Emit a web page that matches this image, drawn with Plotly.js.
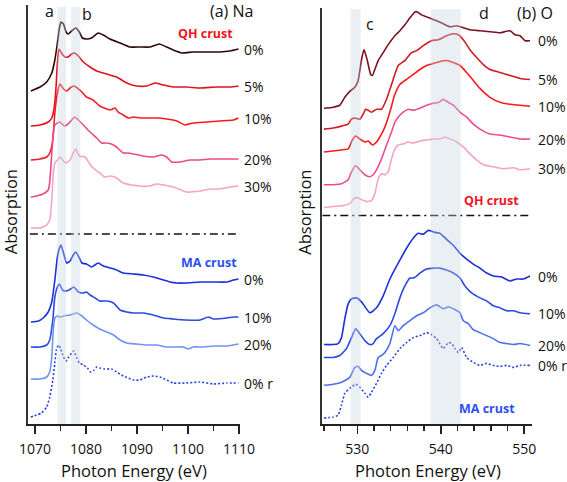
<!DOCTYPE html>
<html>
<head>
<meta charset="utf-8">
<script src="https://cdn.plot.ly/plotly-3.0.1.min.js"></script>
<style>html,body{margin:0;padding:0;background:#fff;}#plot{width:567px;height:482px;}</style>
</head>
<body>
<div id="plot"></div>
<script>
// ---------- (a) Na K-edge, QH crust ----------
const naE_QH0 = [1069.2,1071.0,1072.3,1073.3,1073.9,1074.4,1074.8,1075.1,1075.6,1076.1,1076.5,1077.2,1078.0,1078.7,1079.3,1080.1,1081.1,1082.4,1083.4,1084.7,1086.7,1088.6,1090.6,1092.5,1094.4,1095.8,1097.1,1098.8,1101.0,1103.7,1106.3,1108.2,1109.9];
const naA_QH0 = [333,337,342,351,364,381,396,402,400,392,390,393,396,392,386,385,386,391,389,385,381,377,377,377,380,377,374,371,372,372,372,373,375];
const naE_QH5 = [1069.2,1071.0,1072.6,1073.3,1073.7,1074.1,1074.4,1074.7,1075.2,1075.9,1076.5,1077.2,1077.8,1078.5,1079.5,1080.8,1082.1,1084.1,1086.0,1088.0,1089.9,1091.9,1093.5,1095.2,1097.1,1099.7,1102.4,1105.6,1108.2,1109.9];
const naA_QH5 = [298,299,302,306,314,334,361,375,371,367,367,370,371,368,362,357,353,350,347,341,338,338,341,339,337,337,336,337,337,338];
const naE_QH10 = [1069.2,1071.0,1072.3,1072.9,1073.5,1073.9,1074.4,1074.9,1075.6,1076.2,1076.9,1077.6,1078.3,1079.2,1080.1,1081.4,1082.7,1084.7,1085.7,1086.3,1087.3,1088.3,1089.3,1090.6,1091.9,1093.9,1095.8,1097.8,1099.4,1101.0,1103.7,1106.3,1108.9,1109.9];
const naA_QH10 = [264,265,267,271,284,311,331,340,335,333,336,338,336,332,327,324,318,314,316,312,309,306,307,306,306,306,305,303,299,301,302,303,304,306];
const naE_QH20 = [1069.2,1070.3,1071.6,1072.6,1072.9,1073.3,1073.6,1073.9,1074.9,1075.7,1076.5,1077.2,1077.8,1078.5,1079.5,1080.8,1082.1,1083.1,1084.1,1085.0,1086.0,1087.3,1088.3,1089.3,1091.2,1093.2,1094.8,1095.8,1096.8,1098.4,1100.4,1102.4,1104.3,1106.3,1108.2,1109.9];
const naA_QH20 = [227,228,230,234,242,271,291,299,302,298,300,304,307,304,299,292,286,281,281,280,277,271,271,270,268,267,269,267,262,262,264,264,265,265,265,265];
const naE_QH30 = [1069.2,1071.0,1072.3,1072.9,1073.3,1073.6,1073.9,1074.4,1074.9,1075.4,1076.0,1076.9,1077.5,1078.0,1078.7,1079.8,1080.5,1081.4,1082.7,1083.7,1084.7,1086.0,1087.3,1089.0,1090.6,1092.5,1093.9,1095.2,1097.1,1099.7,1102.4,1104.3,1106.3,1108.2,1109.9];
const naA_QH30 = [196,196,199,204,224,251,261,264,267,264,261,264,271,275,268,267,262,256,251,247,248,246,241,239,238,238,240,239,237,232,233,235,235,237,238];
// ---------- (a) Na K-edge, MA crust ----------
const naE_MA0 = [1069.2,1070.7,1071.6,1072.6,1073.3,1073.9,1074.4,1074.8,1075.1,1075.6,1076.2,1076.9,1077.5,1078.0,1078.7,1079.2,1080.1,1081.1,1082.4,1083.4,1084.7,1086.0,1087.3,1089.3,1091.2,1093.2,1095.2,1096.5,1097.8,1099.7,1102.4,1105.0,1107.6,1108.9,1109.9];
const naA_MA0 = [102,103,106,112,122,144,167,176,179,171,161,163,169,172,166,161,160,157,161,158,156,154,151,150,149,147,144,142,141,141,142,142,142,144,145];
const naE_MA10 = [1069.2,1071.0,1072.3,1072.9,1073.5,1073.9,1074.4,1074.8,1075.4,1076.2,1077.0,1077.6,1078.5,1079.5,1080.1,1080.8,1081.8,1082.7,1084.1,1085.4,1086.7,1088.0,1089.3,1091.2,1093.2,1095.2,1097.1,1099.7,1102.4,1104.0,1105.0,1107.6,1108.9,1109.9];
const naA_MA10 = [77,77,79,84,104,127,137,140,134,133,135,137,132,131,132,129,126,123,123,121,114,112,111,111,109,106,105,104,104,107,105,106,107,107];
const naE_MA20 = [1069.2,1071.0,1072.3,1072.9,1073.3,1073.6,1073.9,1074.4,1074.9,1075.6,1076.9,1078.2,1079.2,1080.1,1081.4,1082.7,1084.1,1085.4,1086.7,1088.0,1089.9,1091.9,1093.9,1095.8,1097.8,1099.1,1100.1,1101.0,1103.0,1105.0,1107.6,1109.9];
const naA_MA20 = [45,45,47,52,67,94,106,108,107,108,109,111,108,104,99,95,92,89,84,81,80,79,79,77,77,77,75,77,77,78,78,80];
const naE_MA0r = [1069.2,1070.3,1071.3,1072.3,1072.9,1073.5,1073.9,1074.2,1074.6,1075.0,1075.6,1076.1,1076.5,1077.2,1077.6,1078.2,1078.7,1079.5,1080.3,1080.9,1081.6,1082.1,1082.7,1083.7,1085.0,1086.0,1087.3,1089.3,1090.6,1091.9,1093.2,1094.5,1095.8,1097.1,1099.7,1102.4,1105.0,1107.6,1109.9];
const naA_MA0r = [7,9,11,17,27,44,61,74,79,76,67,63,66,71,73,66,61,59,56,52,54,57,56,55,55,52,48,44,44,47,48,47,44,41,41,42,40,41,41];

// ---------- (b) O K-edge, QH crust ----------
const oE_QH0 = [526.0,527.1,527.9,528.5,529.1,529.7,530.1,530.5,530.8,531.2,531.6,531.8,532.1,532.5,533.1,533.7,534.5,535.1,535.7,536.3,536.9,537.2,537.7,538.3,538.9,539.5,540.3,541.1,541.9,542.7,543.5,544.7,545.9,547.1,548.3,548.9,549.5,550.1,550.7];
const oA_QH0 = [318,319,321,329,335,339,346,367,377,366,352,351,357,366,374,382,391,396,402,409,415,415,412,410,408,406,403,400,401,399,397,396,395,394,396,392,391,386,386];
const oE_QH5 = [526.0,527.1,528.1,528.9,529.3,529.7,530.3,530.7,531.0,531.3,531.7,532.3,532.9,533.5,534.3,534.9,535.7,536.5,537.1,537.9,538.9,539.7,540.7,541.5,542.1,542.7,543.5,544.3,545.1,545.9,547.1,548.3,549.5,550.7];
const oA_QH5 = [297,298,300,302,307,308,307,312,317,316,314,317,317,327,347,361,366,374,376,381,386,387,391,393,392,387,377,369,362,357,354,351,348,347];
const oE_QH10 = [526.0,527.1,528.1,528.9,529.4,529.8,530.3,530.9,531.3,531.8,532.3,532.7,533.3,533.9,534.5,535.1,535.9,536.7,537.5,538.3,539.1,539.9,540.7,541.5,542.3,543.1,543.9,544.7,545.9,547.1,548.3,549.5,550.7];
const oA_QH10 = [274,275,276,277,286,290,287,284,285,281,284,289,299,314,332,342,347,352,357,361,363,365,366,364,361,354,346,338,329,324,322,321,320];
const oE_QH20 = [526.0,527.1,528.1,528.9,529.3,529.8,530.3,530.9,531.5,531.9,532.3,532.9,533.5,534.1,534.5,534.9,535.5,536.1,536.7,537.5,538.3,539.1,539.8,540.3,540.7,541.5,542.3,543.1,543.9,544.7,545.9,547.1,548.3,549.5,550.7];
const oA_QH20 = [241,241,242,246,254,260,256,251,249,251,256,267,281,294,304,309,314,317,316,318,321,323,324,327,325,321,314,309,302,297,292,291,289,287,287];
const oE_QH30 = [526.0,527.1,528.3,529.1,529.6,530.0,530.5,531.1,531.7,532.1,532.5,532.9,533.3,533.7,534.1,534.5,534.9,535.5,536.1,536.7,537.5,538.3,539.1,539.9,540.5,541.1,541.9,542.7,543.5,544.3,545.1,546.3,547.5,548.7,549.5,550.7];
const oA_QH30 = [218,219,220,222,227,228,226,224,225,232,247,252,251,254,267,277,281,282,284,283,285,286,287,287,289,287,284,279,272,266,261,259,257,258,256,257];
// ---------- (b) O K-edge, MA crust ----------
const oE_MA0 = [526.0,527.1,527.7,528.1,528.5,528.9,529.3,529.9,530.5,531.5,532.3,533.1,533.9,534.9,535.9,536.7,537.3,537.9,538.5,539.3,539.9,540.7,541.5,542.3,543.1,543.9,544.7,545.5,546.3,547.3,548.3,549.1,549.9,550.7];
const oA_MA0 = [80,80,81,87,106,121,126,127,123,112,117,129,146,162,177,187,192,191,195,193,192,186,180,172,166,161,157,152,149,148,144,146,146,149];
const oE_MA10 = [526.0,527.1,527.9,528.7,529.3,529.8,530.2,530.9,531.5,531.9,532.3,533.1,533.9,534.5,535.1,535.7,536.3,536.7,537.1,537.5,538.3,539.1,539.9,540.7,541.5,542.3,542.9,543.7,544.7,545.5,546.3,547.1,547.9,548.7,549.5,550.7];
const oA_MA10 = [67,67,69,76,87,96,92,84,80,81,86,91,99,111,127,139,147,147,149,152,156,157,157,155,152,147,139,132,127,124,119,117,114,114,112,111];
const oE_MA20 = [526.0,527.1,528.1,529.1,529.7,530.1,530.5,531.1,531.7,532.1,532.5,532.9,533.3,533.9,534.5,534.9,535.5,536.3,537.1,537.9,538.7,539.5,540.3,540.9,541.5,542.3,542.7,543.3,543.9,544.7,545.5,546.3,547.1,547.9,548.7,549.5,550.7];
const oA_MA20 = [39,40,42,47,57,58,54,51,49,54,67,69,72,81,99,94,99,104,109,112,117,120,116,118,116,112,104,101,95,92,89,86,82,81,80,81,79];
const oE_MA0r = [526.0,527.1,527.7,528.1,528.5,529.1,529.8,530.3,530.9,531.3,531.7,532.3,532.9,533.5,534.3,535.1,535.9,536.7,537.5,538.3,538.9,539.5,540.3,540.9,541.3,541.7,542.1,542.5,543.1,543.9,544.7,545.5,546.3,547.1,547.9,548.7,549.5,550.7];
const oA_MA0r = [6,7,9,19,31,36,40,37,31,27,32,41,51,59,67,76,82,87,89,92,90,86,76,82,81,76,72,77,67,62,59,61,59,58,59,57,59,59];

// highlighted energy bands (eV) and separators
const naBands = [[1074.4,1076.1],[1077.1,1078.9]];
const oBands = [[529.2,530.4],[538.8,542.4]];
const naSepE = [1069.0,1110.2];
const naSepA = [190,190];
const oSepE = [525.8,551.0];
const oSepA = [210,210];

// tick labels
const naTicks = [1070,1080,1090,1100,1110];
const oTicks = [530,540,550];

const F = '"Open Sans", "Noto Sans", sans-serif';

const series = [
  // [E, A, color, label, dash, axis]
  [naE_QH0, naA_QH0, '#2e0707', '0%', 'solid', 1],
  [naE_QH5, naA_QH5, '#e0121c', '5%', 'solid', 1],
  [naE_QH10, naA_QH10, '#f41c24', '10%', 'solid', 1],
  [naE_QH20, naA_QH20, '#ec4a86', '20%', 'solid', 1],
  [naE_QH30, naA_QH30, '#f6a4c6', '30%', 'solid', 1],
  [naE_MA0, naA_MA0, '#1c30da', '0%', 'solid', 1],
  [naE_MA10, naA_MA10, '#2c49e2', '10%', 'solid', 1],
  [naE_MA20, naA_MA20, '#7094f2', '20%', 'solid', 1],
  [naE_MA0r, naA_MA0r, '#2a40e4', '0% r', '2px,2px', 1],
  [oE_QH0, oA_QH0, '#7a1220', '0%', 'solid', 2],
  [oE_QH5, oA_QH5, '#d21a24', '5%', 'solid', 2],
  [oE_QH10, oA_QH10, '#fa1a1c', '10%', 'solid', 2],
  [oE_QH20, oA_QH20, '#ec4c8c', '20%', 'solid', 2],
  [oE_QH30, oA_QH30, '#f7a3c7', '30%', 'solid', 2],
  [oE_MA0, oA_MA0, '#1c30da', '0%', 'solid', 2],
  [oE_MA10, oA_MA10, '#2c49e2', '10%', 'solid', 2],
  [oE_MA20, oA_MA20, '#4c70f0', '20%', 'solid', 2],
  [oE_MA0r, oA_MA0r, '#2a40e4', '0% r', '2px,2px', 2]
];

const traces = [];
const annotations = [];
series.forEach(s => {
  const ax = s[5] === 1 ? '' : '2';
  traces.push({
    x: s[0], y: s[1], type: 'scatter', mode: 'lines',
    xaxis: 'x' + ax, yaxis: 'y' + ax,
    line: {color: s[2], width: 1.6, dash: s[4], shape: 'spline', smoothing: 0.5},
    hoverinfo: 'skip', showlegend: false
  });
  annotations.push({
    xref: 'paper', yref: 'y' + ax,
    x: s[5] === 1 ? 0.397 : 0.942, y: s[1][s[1].length - 1],
    xanchor: 'left', yanchor: 'middle', showarrow: false,
    text: s[3], font: {family: F, size: 14, color: '#111'}
  });
});
traces.push({x: naSepE, y: naSepA, xaxis: 'x', yaxis: 'y', mode: 'lines', type: 'scatter',
  line: {color: '#111', width: 1.5, dash: '8px,4px,2px,4px'}, hoverinfo: 'skip', showlegend: false});
traces.push({x: oSepE, y: oSepA, xaxis: 'x2', yaxis: 'y2', mode: 'lines', type: 'scatter',
  line: {color: '#111', width: 1.5, dash: '8px,4px,2px,4px'}, hoverinfo: 'skip', showlegend: false});

const shapes = [];
naBands.forEach(b => shapes.push({type: 'rect', xref: 'x', yref: 'paper', x0: b[0], x1: b[1], y0: 0, y1: 0.995,
  fillcolor: 'rgba(195,212,218,0.36)', line: {width: 0}, layer: 'above'}));
oBands.forEach(b => shapes.push({type: 'rect', xref: 'x2', yref: 'paper', x0: b[0], x1: b[1], y0: 0, y1: 0.99,
  fillcolor: 'rgba(195,212,218,0.36)', line: {width: 0}, layer: 'above'}));

function txt(xref, yref, x, y, text, size, color, bold, extra) {
  return Object.assign({xref, yref, x, y, text: bold ? '<b>' + text + '</b>' : text, showarrow: false,
    xanchor: 'center', yanchor: 'middle', font: {family: F, size, color}}, extra || {});
}
annotations.push(txt('x', 'y', 1072.9, 413, 'a', 16, '#111'));
annotations.push(txt('x', 'y', 1080.2, 410, 'b', 16, '#111'));
annotations.push(txt('x', 'y', 1108.6, 413, '(a) Na', 16, '#111'));
annotations.push(txt('x', 'y', 1103.5, 391, 'QH crust', 12.5, '#f0141e', true));
annotations.push(txt('x', 'y', 1104.1, 162, 'MA crust', 12.5, '#2e4ef0', true));
annotations.push(txt('x2', 'y2', 531.5, 403, 'c', 16, '#111'));
annotations.push(txt('x2', 'y2', 545.2, 414, 'd', 16, '#111'));
annotations.push(txt('paper', 'y2', 0.9406, 414, '(b) O', 16, '#111'));
annotations.push(txt('x2', 'y2', 546.05, 225, 'QH crust', 12.5, '#f0141e', true));
annotations.push(txt('x2', 'y2', 545.6, 16, 'MA crust', 12.5, '#2e4ef0', true));
// axis titles
annotations.push(txt('paper', 'paper', -0.031, 0.506, 'Absorption', 16.5, '#111', false, {textangle: -90}));
annotations.push(txt('paper', 'paper', 0.5135, 0.506, 'Absorption', 16.5, '#111', false, {textangle: -90}));
annotations.push(txt('paper', 'paper', 0.1967, -0.112, 'Photon Energy (eV)', 16.5, '#111'));
annotations.push(txt('paper', 'paper', 0.742, -0.112, 'Photon Energy (eV)', 16.5, '#111'));

const xbase = {
  showline: true, linecolor: '#222', linewidth: 1.8, showgrid: false, zeroline: false,
  ticks: 'outside', ticklen: 8, tickwidth: 1.6, tickcolor: '#222',
  tickfont: {family: F, size: 14, color: '#111'}, ticklabelstandoff: 3,
  tickmode: 'array'
};
const ybase = {
  showline: true, linecolor: '#333', linewidth: 2, showgrid: false, zeroline: false,
  showticklabels: false, ticks: '', range: [0, 419], fixedrange: true
};

const layout = {
  width: 567, height: 482,
  margin: {l: 28, r: 0, t: 5, b: 58},
  paper_bgcolor: '#fff', plot_bgcolor: 'rgba(0,0,0,0)',
  font: {family: F, color: '#111'},
  xaxis: Object.assign({}, xbase, {domain: [0.0006, 0.3933], range: [1068.7, 1110.2], anchor: 'y',
    tickvals: naTicks, ticktext: naTicks.map(String),
    minor: {ticks: 'outside', ticklen: 5, tickwidth: 1.5, tickcolor: '#222', dtick: 5, tick0: 1065}}),
  yaxis: Object.assign({}, ybase, {domain: [0, 1], anchor: 'x'}),
  xaxis2: Object.assign({}, xbase, {domain: [0.546, 0.9345], range: [525.8, 550.9], anchor: 'y2',
    tickvals: oTicks, ticktext: oTicks.map(String),
    minor: {ticks: 'outside', ticklen: 5, tickwidth: 1.5, tickcolor: '#222', dtick: 2, tick0: 526}}),
  yaxis2: Object.assign({}, ybase, {domain: [0, 0.993], anchor: 'x2'}),
  shapes, annotations, showlegend: false
};

Plotly.newPlot('plot', traces, layout, {staticPlot: true, displayModeBar: false});
</script>
</body>
</html>
